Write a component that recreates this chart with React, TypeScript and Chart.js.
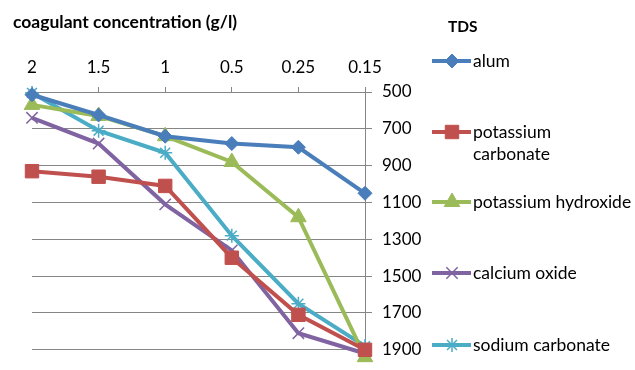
import React, { useEffect, useRef } from "react";
import { Chart, registerables } from "chart.js";
import { drawPoint } from "chart.js/helpers";

Chart.register(...registerables);

const categories = ["2", "1.5", "1", "0.5", "0.25", "0.15"];
const seriesNames = ["alum", "potassium carbonate", "potassium hydroxide", "calcium oxide", "sodium carbonate"];
const alum = [515, 625, 740, 780, 800, 1050];
const potassiumCarbonate = [930, 960, 1010, 1400, 1710, 1900];
const potassiumHydroxide = [570, 630, 740, 880, 1180, 1940];
const calciumOxide = [640, 780, 1110, 1360, 1810, 1920];
const sodiumCarbonate = [505, 710, 830, 1280, 1650, 1880];
const yMin = 500;
const yMax = 1900;
const yStep = 200;
const chartTitle = "coagulant concentration (g/l)";
const legendTitle = "TDS";

const colors = ["#4A7EBB", "#C0504D", "#9BBB59", "#8064A2", "#4BACC6"];
const pointStyles = ["rectRot", "rect", "triangle", "crossRot", "star"];
const pointRadii = [7, 9.5, 9, 8, 7];
const pointBorders = [1, 1, 1, 1.5, 1.5];
const filled = [true, true, true, false, false];
const legendLines: string[][] = [["alum"], ["potassium", "carbonate"], ["potassium hydroxide"], ["calcium oxide"], ["sodium carbonate"]];
const legendY = [61, 132, 202, 273, 345];

const FONT = "Lato, 'Open Sans', sans-serif";

const overlayPlugin = {
  id: "overlay",
  afterDraw(chart: any) {
    const ctx = chart.ctx;
    ctx.save();
    ctx.fillStyle = "#000";
    ctx.textBaseline = "middle";
    ctx.textAlign = "left";
    ctx.font = `bold 17.5px ${FONT}`;
    ctx.fillText(chartTitle, 13, 22);
    ctx.font = `bold 15.5px ${FONT}`;
    ctx.fillText(legendTitle, 448, 27);
    chart.data.datasets.forEach((ds: any, i: number) => {
      const y = legendY[i];
      ctx.strokeStyle = colors[i];
      ctx.lineWidth = 4;
      ctx.beginPath();
      ctx.moveTo(432, y);
      ctx.lineTo(471, y);
      ctx.stroke();
      ctx.fillStyle = colors[i];
      ctx.strokeStyle = colors[i];
      ctx.lineWidth = pointBorders[i];
      drawPoint(ctx, { pointStyle: pointStyles[i], radius: pointRadii[i], borderWidth: pointBorders[i], rotation: 0 } as any, 452, y);
      ctx.fillStyle = "#000";
      ctx.font = `17.5px ${FONT}`;
      legendLines[i].forEach((t, k) => ctx.fillText(t, 473, y + k * 22));
    });
    ctx.restore();
  },
};

export default function App() {
  const ref = useRef<HTMLCanvasElement>(null);
  useEffect(() => {
    document.body.style.margin = "0";
    const data = [alum, potassiumCarbonate, potassiumHydroxide, calciumOxide, sodiumCarbonate];
    const chart = new Chart(ref.current!, {
      type: "line",
      data: {
        labels: categories,
        datasets: data.map((d, i) => ({
          label: seriesNames[i],
          data: d,
          borderColor: colors[i],
          backgroundColor: filled[i] ? colors[i] : "rgba(0,0,0,0)",
          borderWidth: 4,
          pointStyle: pointStyles[i] as any,
          pointRadius: pointRadii[i],
          pointBorderWidth: pointBorders[i],
          pointBackgroundColor: colors[i],
          pointBorderColor: colors[i],
          tension: 0,
          clip: false as any,
        })),
      },
      options: {
        animation: false,
        responsive: false,
        layout: { padding: { left: 32, right: 203, top: 0, bottom: 13 }, autoPadding: false },
        plugins: { legend: { display: false }, tooltip: { enabled: false }, title: { display: false } },
        scales: {
          x: {
            position: "top",
            offset: false,
            grid: { drawOnChartArea: false, color: "#868686", tickLength: 5, lineWidth: 1 },
            border: { display: true, color: "#868686" },
            ticks: { color: "#000", font: { family: FONT, size: 17 }, padding: 9, maxRotation: 0 },
            afterFit: (s: any) => { s.height = 92; },
          },
          y: {
            position: "right",
            reverse: true,
            min: yMin,
            max: yMax,
            grid: { color: "#868686", tickLength: 7, lineWidth: 1 },
            border: { display: true, color: "#868686" },
            ticks: {
              stepSize: yStep,
              color: "#000",
              font: { family: FONT, size: 17 },
              padding: 10,
              callback: (v: any) => String(v),
            },
            afterFit: (s: any) => { s.width = 67; },
          },
        },
      },
      plugins: [overlayPlugin],
    });
    return () => chart.destroy();
  }, []);
  return (
    <div style={{ position: "absolute", left: 0, top: 0, width: 635, height: 370 }}>
      <canvas ref={ref} width={635} height={370} style={{ display: "block" }} />
    </div>
  );
}
